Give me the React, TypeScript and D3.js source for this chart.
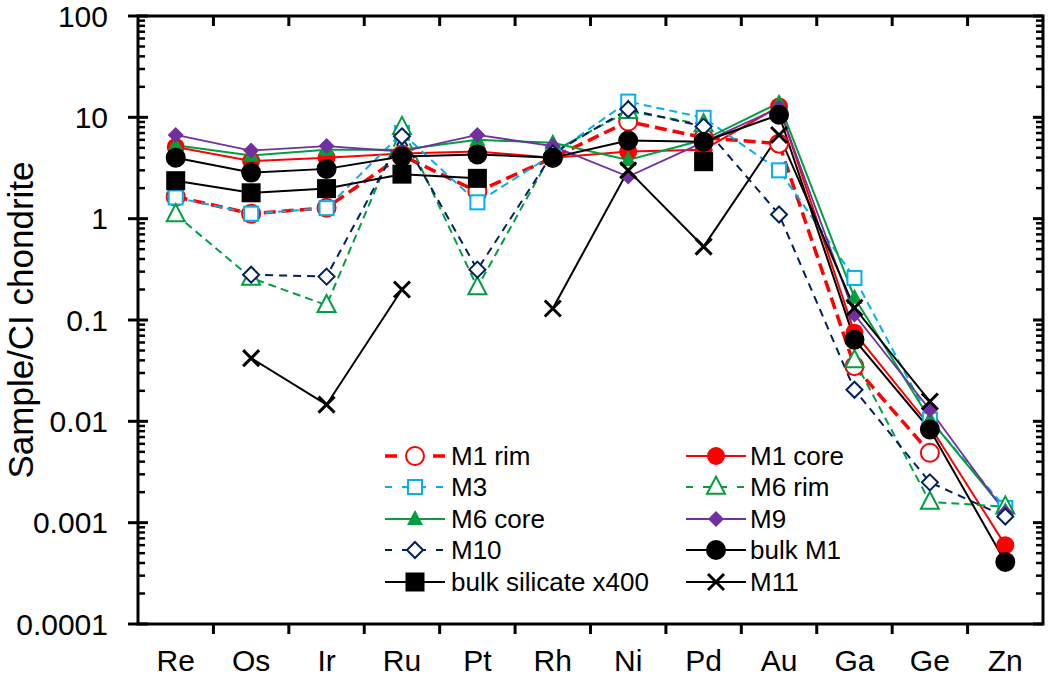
import React from 'react';
import * as d3 from 'd3';

const categories = ['Re', 'Os', 'Ir', 'Ru', 'Pt', 'Rh', 'Ni', 'Pd', 'Au', 'Ga', 'Ge', 'Zn'];
const yTickValues = [0.0001, 0.001, 0.01, 0.1, 1, 10, 100];
const yTickLabels = ['0.0001', '0.001', '0.01', '0.1', '1', '10', '100'];

const m1Rim = [1.65, 1.12, 1.28, 4.2, 1.85, 4.0, 9.1, 6.3, 5.5, 0.035, 0.0049, null];
const m1Core = [5.1, 3.7, 4.0, 4.4, 4.6, 4.0, 4.6, 4.8, 12.8, 0.075, 0.009, 0.0006];
const m3 = [1.62, 1.12, 1.27, 7.0, 1.45, 4.3, 14.3, 9.9, 3.0, 0.26, 0.0104, 0.0014];
const m6Rim = [1.1, 0.26, 0.14, 8.0, 0.21, 4.6, 11.5, 8.5, null, 0.04, 0.0016, 0.00144];
const m6Core = [5.3, 4.2, 4.8, 4.8, 6.0, 5.6, 3.8, 6.0, 13.9, 0.166, 0.0105, 0.0013];
const m9 = [6.7, 4.7, 5.2, 4.6, 6.7, 5.2, 2.6, 5.7, 12.4, 0.113, 0.013, 0.00126];
const m10 = [null, 0.28, 0.268, 6.5, 0.314, 4.4, 12.0, 8.1, 1.1, 0.0205, 0.0025, 0.00115];
const bulkM1 = [4.0, 2.85, 3.1, 4.1, 4.3, 4.0, 5.9, 5.75, 10.6, 0.064, 0.0083, 0.00041];
const bulkSilicate = [2.37, 1.8, 1.98, 2.75, 2.5, null, null, 3.65, null, null, null, null];
const m11 = [null, 0.042, 0.0146, 0.2, null, 0.13, 3.0, 0.53, 6.7, 0.132, 0.0157, null];

type Marker = 'circle' | 'square' | 'triangle' | 'diamond' | 'x';
interface Series {
  name: string;
  values: (number | null)[];
  color: string;
  width: number;
  dash?: string;
  legendDash?: string;
  marker: Marker;
  filled: boolean;
  size: number;
}

const series: Series[] = [
  { name: 'M1 rim', values: m1Rim, color: '#FF0000', width: 3.5, dash: '12,6', legendDash: '12,36', marker: 'circle', filled: false, size: 9 },
  { name: 'M1 core', values: m1Core, color: '#FF0000', width: 2, marker: 'circle', filled: true, size: 9 },
  { name: 'M3', values: m3, color: '#00B0F0', width: 2, dash: '8,5', legendDash: '7,10', marker: 'square', filled: false, size: 7 },
  { name: 'M6 rim', values: m6Rim, color: '#00A040', width: 2, dash: '8,5', legendDash: '7,10', marker: 'triangle', filled: false, size: 9 },
  { name: 'M6 core', values: m6Core, color: '#00A040', width: 2, marker: 'triangle', filled: true, size: 8 },
  { name: 'M9', values: m9, color: '#7030A0', width: 1.8, marker: 'diamond', filled: true, size: 8 },
  { name: 'M10', values: m10, color: '#002060', width: 2, dash: '8,6', legendDash: '7,10', marker: 'diamond', filled: false, size: 8 },
  { name: 'bulk silicate x400', values: bulkSilicate, color: '#000000', width: 2, marker: 'square', filled: true, size: 9.5 },
  { name: 'bulk M1', values: bulkM1, color: '#000000', width: 2, marker: 'circle', filled: true, size: 10 },
  { name: 'M11', values: m11, color: '#000000', width: 2, marker: 'x', filled: false, size: 8 },
];

const legendLeft = ['M1 rim', 'M3', 'M6 core', 'M10', 'bulk silicate x400'];
const legendRight = ['M1 core', 'M6 rim', 'M9', 'bulk M1', 'M11'];

const W = 1050, H = 678;
const L = 138, R = 1043, T = 16, B = 624;
const FONT = '"Liberation Sans", Arial, sans-serif';

function MarkerShape({ s, cx, cy }: { s: Series; cx: number; cy: number }) {
  const fill = s.filled ? s.color : '#FFFFFF';
  const r = s.size;
  const sw = 2;
  if (s.marker === 'circle') return <circle cx={cx} cy={cy} r={r} fill={fill} stroke={s.color} strokeWidth={s.filled ? 0 : sw} />;
  if (s.marker === 'square') return <rect x={cx - r} y={cy - r} width={2 * r} height={2 * r} fill={fill} stroke={s.color} strokeWidth={s.filled ? 0 : sw} />;
  if (s.marker === 'triangle') {
    const h = r * 1.9;
    const pts = `${cx},${cy - h * 0.6} ${cx + r},${cy + h * 0.4} ${cx - r},${cy + h * 0.4}`;
    return <polygon points={pts} fill={fill} stroke={s.color} strokeWidth={s.filled ? 0 : sw} />;
  }
  if (s.marker === 'diamond') {
    const pts = `${cx},${cy - r} ${cx + r},${cy} ${cx},${cy + r} ${cx - r},${cy}`;
    return <polygon points={pts} fill={fill} stroke={s.color} strokeWidth={s.filled ? 0 : sw} />;
  }
  return (
    <g stroke={s.color} strokeWidth={3}>
      <line x1={cx - r} y1={cy - r} x2={cx + r} y2={cy + r} />
      <line x1={cx - r} y1={cy + r} x2={cx + r} y2={cy - r} />
    </g>
  );
}

export default function App() {
  const x = d3.scaleBand<string>().domain(categories).range([L, R]).padding(0);
  const y = d3.scaleLog().domain([0.0001, 100]).range([B, T]);
  const cx = (c: string) => (x(c) as number) + x.bandwidth() / 2;

  const line = d3
    .line<number | null>()
    .defined((d) => d != null)
    .x((_, i) => cx(categories[i]))
    .y((d) => y(d as number));

  const minor = y.ticks().filter((v) => !yTickValues.some((t) => Math.abs(Math.log10(v) - Math.log10(t)) < 1e-6));
  const bounds = categories.slice(1).map((c) => x(c) as number);

  const byName = (n: string) => series.find((s) => s.name === n)!;
  const legendRows = [456, 487, 519, 550, 582];

  const legendItem = (name: string, x0: number, xt: number, ly: number) => {
    const s = byName(name);
    return (
      <g key={name}>
        <line x1={x0} y1={ly} x2={x0 + 60} y2={ly} stroke={s.color} strokeWidth={s.width} strokeDasharray={s.legendDash} />
        <MarkerShape s={s} cx={x0 + 30} cy={ly} />
        <text x={xt} y={ly} dy="0.36em" fontSize={26} fontFamily={FONT} fill="#000">{name}</text>
      </g>
    );
  };

  return (
    <svg width={W} height={H} style={{ position: 'absolute', left: 0, top: 0, background: '#fff' }}>
      {series.map((s) => (
        <path key={s.name + '-l'} d={line(s.values) || ''} fill="none" stroke={s.color} strokeWidth={s.width} strokeDasharray={s.dash} />
      ))}
      {series.map((s) => (
        <g key={s.name + '-m'}>
          {s.values.map((v, i) =>
            v == null ? null : <MarkerShape key={i} s={s} cx={cx(categories[i])} cy={y(v)} />
          )}
        </g>
      ))}

      <rect x={L} y={T} width={R - L} height={B - T} fill="none" stroke="#000" strokeWidth={3} />

      {yTickValues.map((v) => (
        <g key={'yt' + v}>
          <line x1={L - 10} x2={L + 10} y1={y(v)} y2={y(v)} stroke="#000" strokeWidth={3} />
          <line x1={R - 10} x2={R} y1={y(v)} y2={y(v)} stroke="#000" strokeWidth={3} />
        </g>
      ))}
      {minor.map((v) => (
        <g key={'ym' + v}>
          <line x1={L} x2={L + 7} y1={y(v)} y2={y(v)} stroke="#000" strokeWidth={2.5} />
          <line x1={R - 7} x2={R} y1={y(v)} y2={y(v)} stroke="#000" strokeWidth={2.5} />
        </g>
      ))}
      {yTickValues.map((v, i) => (
        <text key={'yl' + v} x={108} y={y(v)} dy="0.36em" textAnchor="end" fontSize={30} fontFamily={FONT} fill="#000">
          {yTickLabels[i]}
        </text>
      ))}

      {bounds.map((bx) => (
        <g key={'xt' + bx}>
          <line x1={bx} x2={bx} y1={B} y2={B + 10} stroke="#000" strokeWidth={3} />
          <line x1={bx} x2={bx} y1={T} y2={T + 10} stroke="#000" strokeWidth={3} />
        </g>
      ))}
      {categories.map((c) => (
        <text key={'xl' + c} x={cx(c)} y={671} textAnchor="middle" fontSize={30} fontFamily={FONT} fill="#000">
          {c}
        </text>
      ))}

      <text
        transform={`translate(33, ${(T + B) / 2}) rotate(-90)`}
        textAnchor="middle"
        fontSize={35}
        fontFamily={FONT}
        fill="#000"
      >
        Sample/CI chondrite
      </text>

      {legendLeft.map((n, i) => legendItem(n, 385, 451, legendRows[i]))}
      {legendRight.map((n, i) => legendItem(n, 686, 750, legendRows[i]))}
    </svg>
  );
}
